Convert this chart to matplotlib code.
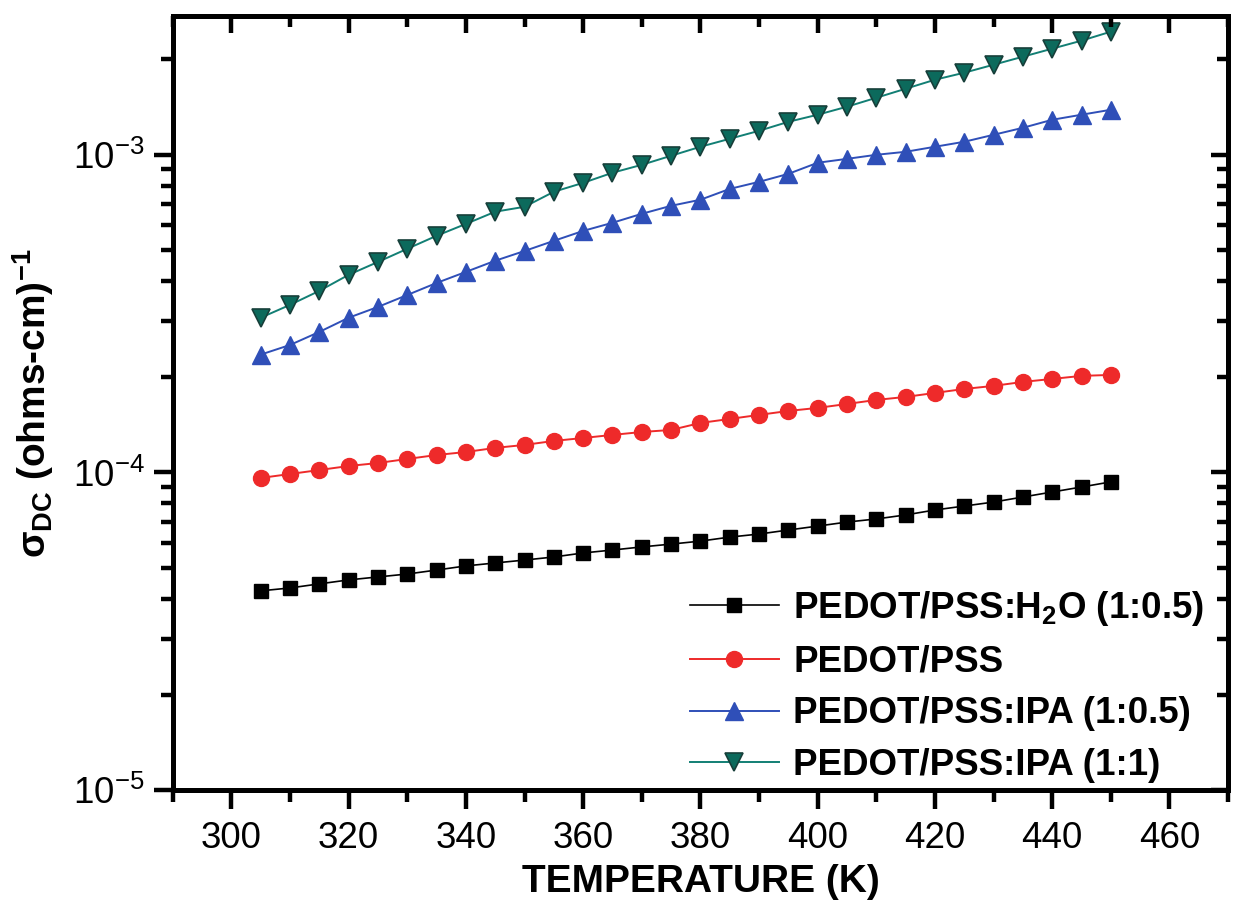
"""DC conductivity vs temperature for PEDOT/PSS films with different additives."""

import matplotlib

matplotlib.use("Agg")
import matplotlib.pyplot as plt
from matplotlib.ticker import LogLocator, MultipleLocator, NullFormatter

plt.rcParams["font.family"] = ["Liberation Sans", "DejaVu Sans"]
plt.rcParams["mathtext.fontset"] = "custom"
plt.rcParams["mathtext.rm"] = "Liberation Sans"
plt.rcParams["mathtext.it"] = "Liberation Sans:italic"
plt.rcParams["mathtext.bf"] = "Liberation Sans:bold"

# temperature (K)
temperature = [305, 310, 315, 320, 325, 330, 335, 340, 345, 350,
               355, 360, 365, 370, 375, 380, 385, 390, 395, 400,
               405, 410, 415, 420, 425, 430, 435, 440, 445, 450]

# sigma_DC in (ohms-cm)^-1
sigma_h2o = [4.24e-5, 4.33e-5, 4.46e-5, 4.59e-5, 4.69e-5, 4.79e-5, 4.93e-5, 5.08e-5, 5.19e-5, 5.30e-5,
             5.42e-5, 5.58e-5, 5.70e-5, 5.83e-5, 5.95e-5, 6.08e-5, 6.26e-5, 6.40e-5, 6.59e-5, 6.78e-5,
             6.98e-5, 7.14e-5, 7.35e-5, 7.62e-5, 7.84e-5, 8.07e-5, 8.37e-5, 8.68e-5, 9.00e-5, 9.34e-5]
sigma_pristine = [9.61e-5, 9.89e-5, 1.018e-4, 1.048e-4, 1.071e-4, 1.103e-4, 1.135e-4, 1.160e-4, 1.195e-4, 1.221e-4,
                  1.257e-4, 1.284e-4, 1.313e-4, 1.341e-4, 1.361e-4, 1.432e-4, 1.474e-4, 1.518e-4, 1.562e-4, 1.597e-4,
                  1.643e-4, 1.692e-4, 1.729e-4, 1.780e-4, 1.832e-4, 1.873e-4, 1.928e-4, 1.970e-4, 2.014e-4, 2.028e-4]
sigma_ipa_05 = [2.35e-4, 2.52e-4, 2.77e-4, 3.07e-4, 3.32e-4, 3.62e-4, 3.95e-4, 4.28e-4, 4.64e-4, 4.98e-4,
                5.36e-4, 5.76e-4, 6.11e-4, 6.52e-4, 6.91e-4, 7.22e-4, 7.81e-4, 8.22e-4, 8.71e-4, 9.44e-4,
                9.71e-4, 1.000e-3, 1.022e-3, 1.060e-3, 1.099e-3, 1.156e-3, 1.216e-3, 1.289e-3, 1.337e-3, 1.386e-3]
sigma_ipa_1 = [3.07e-4, 3.37e-4, 3.73e-4, 4.19e-4, 4.60e-4, 5.06e-4, 5.56e-4, 6.06e-4, 6.62e-4, 6.86e-4,
               7.65e-4, 8.16e-4, 8.78e-4, 9.30e-4, 9.93e-4, 1.060e-3, 1.123e-3, 1.190e-3, 1.270e-3, 1.337e-3,
               1.417e-3, 1.512e-3, 1.614e-3, 1.723e-3, 1.813e-3, 1.921e-3, 2.036e-3, 2.158e-3, 2.287e-3, 2.441e-3]

labels = [
    r"PEDOT/PSS:H$_{\mathbf{2}}$O (1:0.5)",
    "PEDOT/PSS",
    "PEDOT/PSS:IPA (1:0.5)",
    "PEDOT/PSS:IPA (1:1)",
]

XLIM = (290, 470)
YLIM = (1e-5, 2.73e-3)

fig = plt.figure(figsize=(12.43, 9.02), dpi=100)
ax = fig.add_axes([0.139, 0.124, 0.849, 0.858])

ax.plot(temperature, sigma_h2o, color="black", lw=1.2, marker="s", ms=10.5,
        mfc="black", mec="black", label=labels[0])
ax.plot(temperature, sigma_pristine, color="#ee2a2a", lw=1.4, marker="o", ms=11.5,
        mfc="#ee2a2a", mec="#ee2a2a", label=labels[1])
ax.plot(temperature, sigma_ipa_05, color="#2f4fb8", lw=1.4, marker="^", ms=13,
        mfc="#2f4fb8", mec="#2f4fb8", label=labels[2])
ax.plot(temperature, sigma_ipa_1, color="#127f74", lw=1.4, marker="v", ms=13,
        mfc="#0c6a5c", mec="#173f3a", mew=1.2, label=labels[3])

ax.set_yscale("log")
ax.set_xlim(*XLIM)
ax.set_ylim(*YLIM)

ax.xaxis.set_major_locator(MultipleLocator(20))
ax.xaxis.set_minor_locator(MultipleLocator(10))
ax.yaxis.set_major_locator(LogLocator(base=10))
ax.yaxis.set_minor_locator(LogLocator(base=10, subs=range(2, 10)))
ax.yaxis.set_minor_formatter(NullFormatter())

for sp in ax.spines.values():
    sp.set_linewidth(3.6)

ax.tick_params(which="major", direction="out", length=14, width=3.2, labelsize=26.5, pad=8)
ax.tick_params(which="minor", direction="out", length=8.5, width=3.2)
ax.tick_params(axis="y", which="major", pad=6)

# inward ticks on the top and right frame
axt = ax.twiny()
axt.set_xlim(*XLIM)
axt.xaxis.set_major_locator(MultipleLocator(20))
axt.xaxis.set_minor_locator(MultipleLocator(10))
axt.tick_params(which="major", direction="in", length=12, width=3.2, labeltop=False)
axt.tick_params(which="minor", direction="in", length=8, width=3.2)

axr = ax.twinx()
axr.set_yscale("log")
axr.set_ylim(*YLIM)
axr.yaxis.set_major_locator(LogLocator(base=10))
axr.yaxis.set_minor_locator(LogLocator(base=10, subs=range(2, 10)))
axr.tick_params(which="major", direction="in", length=12, width=3.2, labelright=False)
axr.tick_params(which="minor", direction="in", length=8, width=3.2)
for a in (axt, axr):
    for sp in a.spines.values():
        sp.set_linewidth(3.6)

ax.set_xlabel("TEMPERATURE (K)", fontsize=28, fontweight="bold", labelpad=6)
ax.set_ylabel(r"σ$_{\mathbf{DC}}$ (ohms-cm)$^{\mathbf{-1}}$", fontsize=28,
              fontweight="bold", labelpad=12)

ax.legend(loc="lower left", bbox_to_anchor=(0.466, -0.024), frameon=False,
          prop={"size": 26.5, "weight": "bold"}, numpoints=1,
          handlelength=2.4, handletextpad=0.4, labelspacing=0.45, borderpad=0.2)

fig.savefig("out.png", dpi=100)
plt.close(fig)
